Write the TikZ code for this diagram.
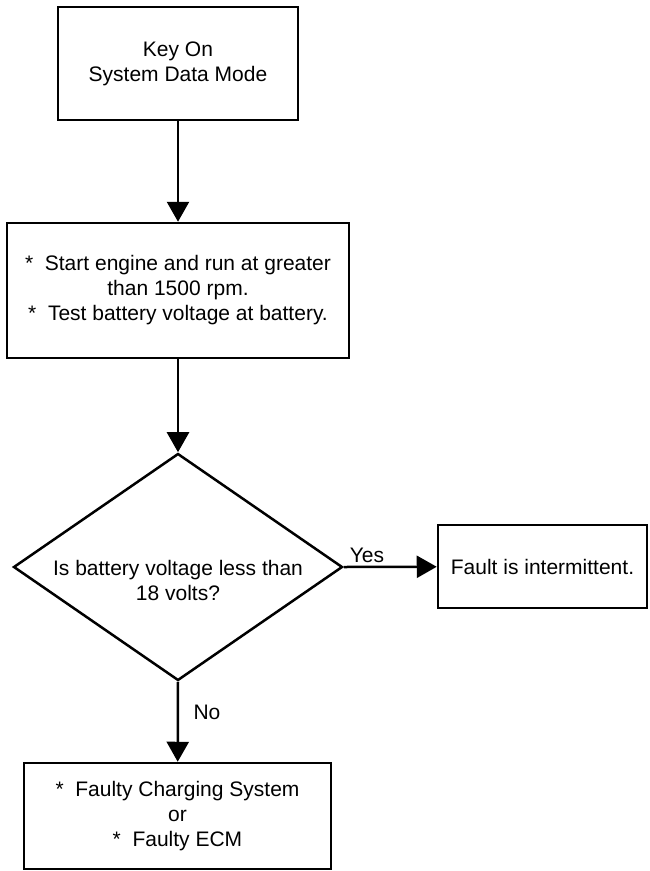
\documentclass[tikz,border=0pt]{standalone}
\usepackage{fontspec}
\setmainfont{Liberation Sans}
\usetikzlibrary{arrows.meta, positioning, shapes.geometric}

\begin{document}
\begin{tikzpicture}[x=1pt, y=-1pt, line width=2.5pt,
  font=\fontsize{21}{25}\selectfont,
  box/.style={draw, rectangle, align=center, inner sep=0pt},
  decision/.style={draw, diamond, inner sep=0pt, minimum width=329pt, minimum height=227pt},
  flow/.style={-{Triangle[length=20pt, width=22pt]}}]
  \useasboundingbox (0,0) rectangle (649,871);

  \node[box, minimum width=240pt, minimum height=113pt] (keyon) at (178,63.5) {Key On\\System Data Mode};

  \node[box, minimum width=342pt, minimum height=135pt] (engine) at (178,290.5)
    {*\ \ Start engine and run at greater\\than 1500 rpm.\\*\ \ Test battery voltage at battery.};

  \node[decision] (volts) at (178,567) {};
  \node[align=center] (voltstext) at (178,580) {Is battery voltage less than\\18 volts?};

  \node[box, minimum width=209pt, minimum height=83pt] (intermittent) at (542.5,566.5) {Fault is intermittent.};

  \node[box, minimum width=307pt, minimum height=106pt] (faulty) at (177.5,816)
    {*\ \ Faulty Charging System\\or\\*\ \ Faulty ECM};

  \draw[flow] (keyon) -- (engine);
  \draw[flow] (engine) -- (volts);
  \draw[flow] (volts.east) -- (intermittent);
  \draw[flow] (volts.south) -- (faulty);

  \node (yes) at (367,555) {Yes};
  \node (no) at (207,712) {No};
\end{tikzpicture}
\end{document}
